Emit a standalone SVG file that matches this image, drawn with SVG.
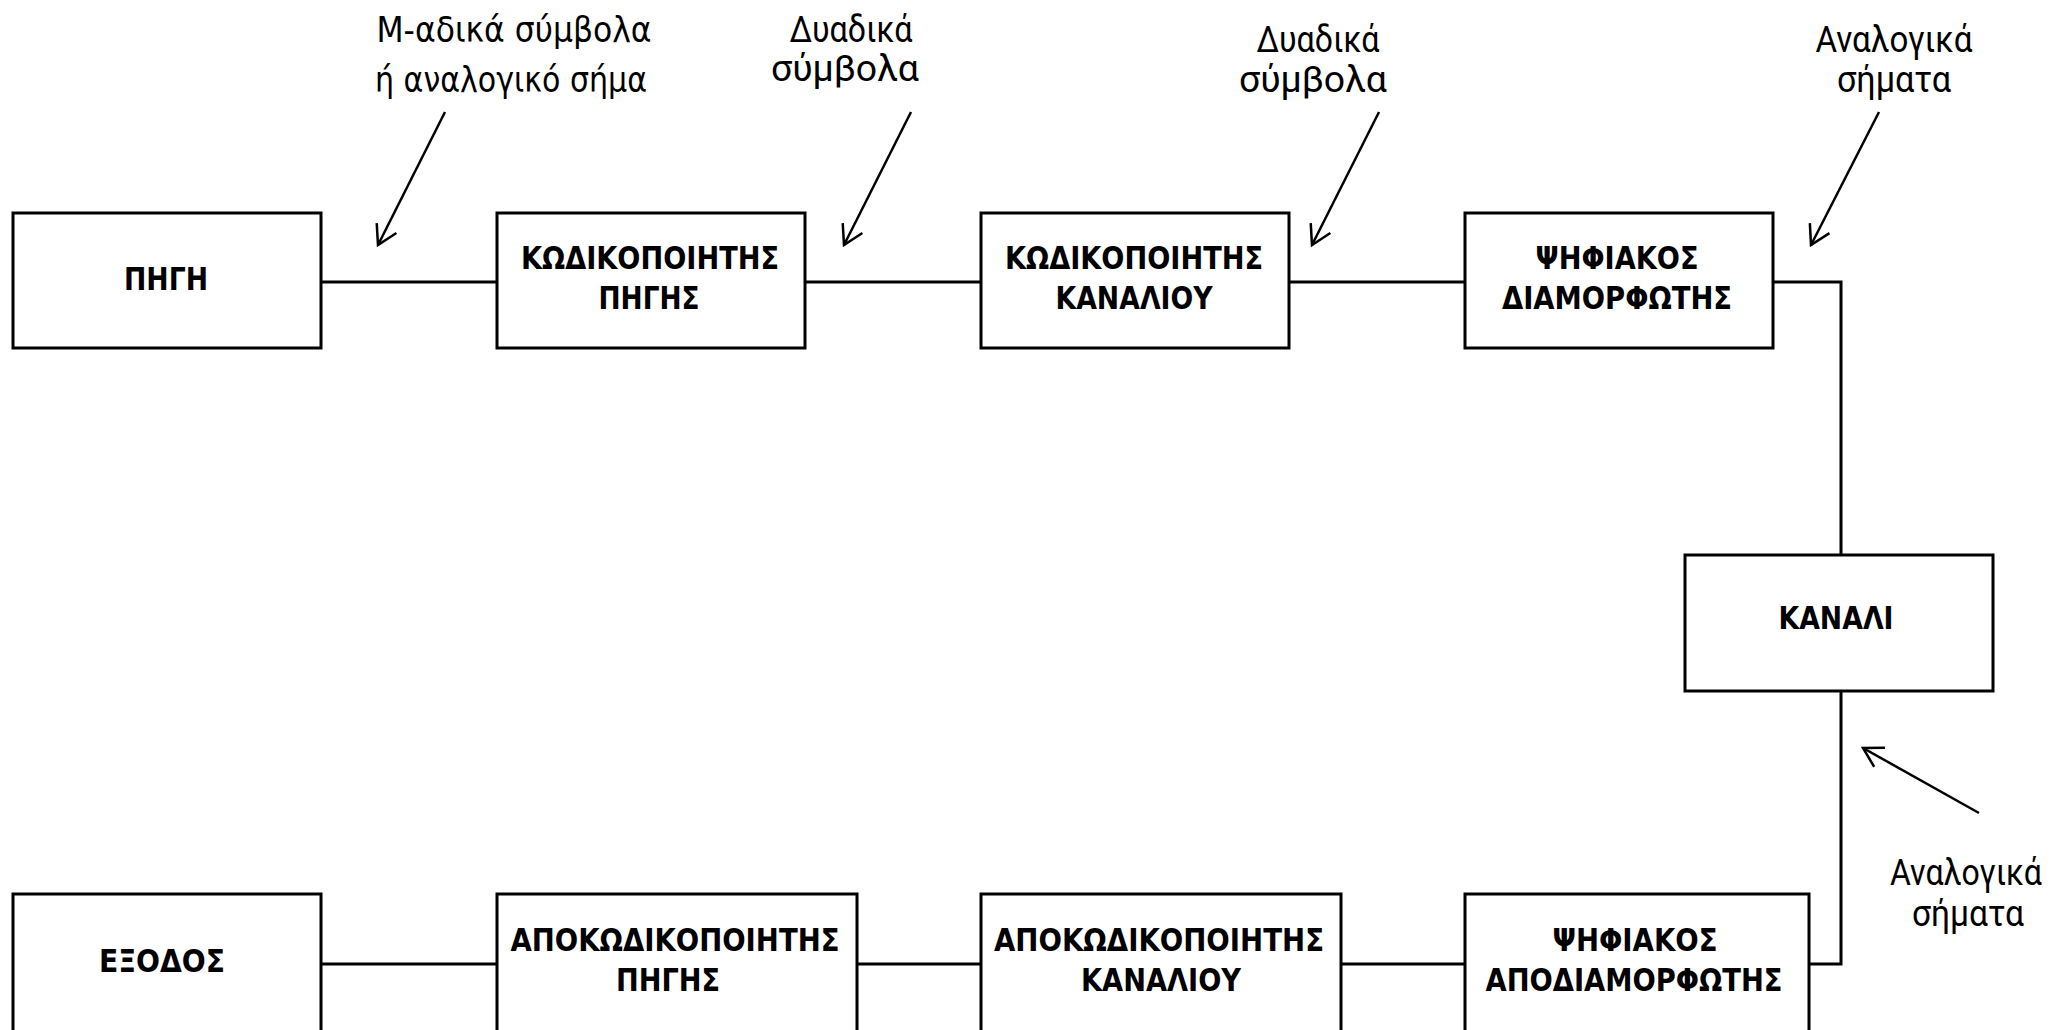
<svg xmlns="http://www.w3.org/2000/svg" width="2062" height="1030" viewBox="0 0 2062 1030">
<style>
.box{fill:#fff;stroke:#000;stroke-width:3}
.lbl{font-family:"DejaVu Sans Condensed","DejaVu Sans",sans-serif;font-weight:bold;font-size:32px;fill:#000;text-anchor:middle}
.wire{fill:none;stroke:#000;stroke-width:3}
.arr{fill:none;stroke:#000;stroke-width:2.5}
.ann{font-family:"DejaVu Sans",sans-serif;font-size:36px;fill:#000;text-anchor:middle}
.ann2{font-family:Roboto,"Open Sans",sans-serif;font-size:36px;fill:#000;text-anchor:middle}
</style>
<defs>
<marker id="open" viewBox="-24 -14 28 28" refX="0" refY="0" markerWidth="28" markerHeight="28" markerUnits="userSpaceOnUse" orient="auto" overflow="visible">
<path d="M -19 -11 L 0 0 L -19 11" fill="none" stroke="#000" stroke-width="2.5"/>
</marker>
</defs>
<rect width="2062" height="1030" fill="#fff"/>
<g id="connectors">
<line class="wire" x1="321" y1="282" x2="497" y2="282"/>
<line class="wire" x1="805" y1="282" x2="981" y2="282"/>
<line class="wire" x1="1289" y1="282" x2="1465" y2="282"/>
<polyline class="wire" points="1773,282 1841,282 1841,555"/>
<polyline class="wire" points="1841,691 1841,964 1809,964"/>
<line class="wire" x1="1341" y1="964" x2="1465" y2="964"/>
<line class="wire" x1="857" y1="964" x2="981" y2="964"/>
<line class="wire" x1="321" y1="964" x2="497" y2="964"/>
<line class="arr" x1="445" y1="112" x2="378" y2="245" marker-end="url(#open)"/>
<line class="arr" x1="911" y1="112" x2="844" y2="245" marker-end="url(#open)"/>
<line class="arr" x1="1379" y1="112" x2="1312" y2="245" marker-end="url(#open)"/>
<line class="arr" x1="1879" y1="112" x2="1811" y2="245" marker-end="url(#open)"/>
<line class="arr" x1="1979" y1="813" x2="1863" y2="748" marker-end="url(#open)"/>
</g>
<g id="annotations">
<text class="ann" x="514" y="42" textLength="275" lengthAdjust="spacingAndGlyphs">Μ-αδικά σύμβολα</text>
<text class="ann" x="511" y="92" textLength="272" lengthAdjust="spacingAndGlyphs">ή αναλογικό σήμα</text>
<text class="ann2" x="851" y="42" textLength="123" lengthAdjust="spacingAndGlyphs">Δυαδικά</text>
<text class="ann2" x="845" y="81" textLength="148" lengthAdjust="spacingAndGlyphs">σύμβολα</text>
<text class="ann2" x="1318" y="52" textLength="123" lengthAdjust="spacingAndGlyphs">Δυαδικά</text>
<text class="ann2" x="1313" y="92" textLength="148" lengthAdjust="spacingAndGlyphs">σύμβολα</text>
<text class="ann2" x="1894" y="52" textLength="157" lengthAdjust="spacingAndGlyphs">Αναλογικά</text>
<text class="ann2" x="1894" y="92" textLength="114" lengthAdjust="spacingAndGlyphs">σήματα</text>
<text class="ann2" x="1966" y="885" textLength="152" lengthAdjust="spacingAndGlyphs">Αναλογικά</text>
<text class="ann2" x="1968" y="926" textLength="112" lengthAdjust="spacingAndGlyphs">σήματα</text>
</g>
<g id="source">
<rect class="box" x="13" y="213" width="308" height="135"/>
<text class="lbl" x="166" y="290" textLength="84" lengthAdjust="spacingAndGlyphs">ΠΗΓΗ</text>
</g>
<g id="source-encoder">
<rect class="box" x="497" y="213" width="308" height="135"/>
<text class="lbl" x="650" y="269" textLength="258" lengthAdjust="spacingAndGlyphs">ΚΩΔΙΚΟΠΟΙΗΤΗΣ</text>
<text class="lbl" x="649" y="309" textLength="101" lengthAdjust="spacingAndGlyphs">ΠΗΓΗΣ</text>
</g>
<g id="channel-encoder">
<rect class="box" x="981" y="213" width="308" height="135"/>
<text class="lbl" x="1134" y="269" textLength="258" lengthAdjust="spacingAndGlyphs">ΚΩΔΙΚΟΠΟΙΗΤΗΣ</text>
<text class="lbl" x="1134" y="309" textLength="157" lengthAdjust="spacingAndGlyphs">ΚΑΝΑΛΙΟΥ</text>
</g>
<g id="modulator">
<rect class="box" x="1465" y="213" width="308" height="135"/>
<text class="lbl" x="1617" y="269" textLength="163" lengthAdjust="spacingAndGlyphs">ΨΗΦΙΑΚΟΣ</text>
<text class="lbl" x="1617" y="309" textLength="230" lengthAdjust="spacingAndGlyphs">ΔΙΑΜΟΡΦΩΤΗΣ</text>
</g>
<g id="channel">
<rect class="box" x="1685" y="555" width="308" height="136"/>
<text class="lbl" x="1836" y="629" textLength="115" lengthAdjust="spacingAndGlyphs">ΚΑΝΑΛΙ</text>
</g>
<g id="demodulator">
<rect class="box" x="1465" y="894" width="344" height="140"/>
<text class="lbl" x="1635" y="951" textLength="165" lengthAdjust="spacingAndGlyphs">ΨΗΦΙΑΚΟΣ</text>
<text class="lbl" x="1634" y="991" textLength="297" lengthAdjust="spacingAndGlyphs">ΑΠΟΔΙΑΜΟΡΦΩΤΗΣ</text>
</g>
<g id="channel-decoder">
<rect class="box" x="981" y="894" width="360" height="140"/>
<text class="lbl" x="1159" y="951" textLength="330" lengthAdjust="spacingAndGlyphs">ΑΠΟΚΩΔΙΚΟΠΟΙΗΤΗΣ</text>
<text class="lbl" x="1161" y="991" textLength="160" lengthAdjust="spacingAndGlyphs">ΚΑΝΑΛΙΟΥ</text>
</g>
<g id="source-decoder">
<rect class="box" x="497" y="894" width="360" height="140"/>
<text class="lbl" x="675" y="951" textLength="329" lengthAdjust="spacingAndGlyphs">ΑΠΟΚΩΔΙΚΟΠΟΙΗΤΗΣ</text>
<text class="lbl" x="668" y="991" textLength="104" lengthAdjust="spacingAndGlyphs">ΠΗΓΗΣ</text>
</g>
<g id="output">
<rect class="box" x="13" y="894" width="308" height="140"/>
<text class="lbl" x="162" y="972" textLength="126" lengthAdjust="spacingAndGlyphs">ΕΞΟΔΟΣ</text>
</g>
</svg>
